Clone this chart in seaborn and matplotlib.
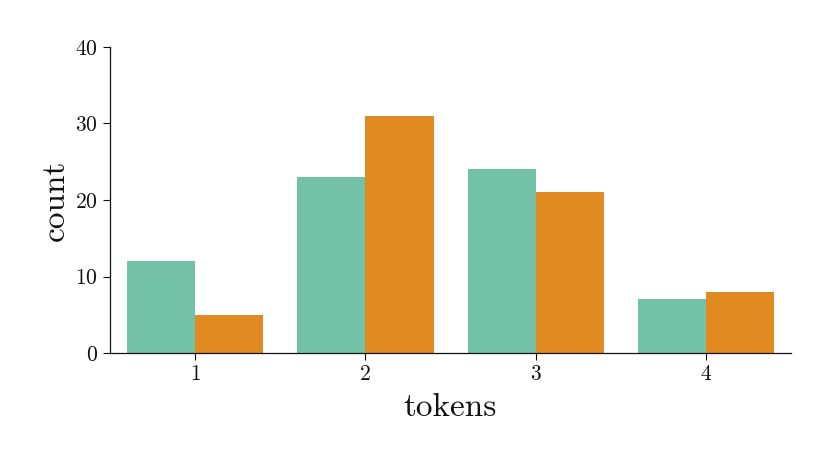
import matplotlib
matplotlib.use("Agg")
import matplotlib.pyplot as plt
import seaborn as sns
import pandas as pd

tokens = ["1", "2", "3", "4"]
series_a = [12, 23, 24, 7]
series_b = [5, 31, 21, 8]
series_names = ["a", "b"]
colors = ["#73c2a8", "#e08a21"]

df = pd.DataFrame({
    "tokens": tokens * 2,
    "count": series_a + series_b,
    "group": [series_names[0]] * len(tokens) + [series_names[1]] * len(tokens),
})

sns.set_style("ticks")
plt.rcParams["font.family"] = ["cmr10", "DejaVu Serif"]
plt.rcParams["axes.formatter.use_mathtext"] = True

fig = plt.figure(figsize=(8.31, 4.62), dpi=100)
ax = fig.add_axes([0.1324, 0.2359, 0.8195, 0.6624])
sns.barplot(data=df, x="tokens", y="count", hue="group", palette=colors,
            saturation=1, legend=False, ax=ax, width=0.8, linewidth=0)
ax.set_ylim(0, 40)
ax.set_xlim(-0.5, 3.5)
ax.set_yticks([0, 10, 20, 30, 40])
ax.tick_params(labelsize=15.5, length=5, width=0.8, colors="#111111")
ax.set_xlabel("tokens", fontsize=24, labelpad=6, color="#111111")
ax.set_ylabel("count", fontsize=24, color="#111111")
for s in ["top", "right"]:
    ax.spines[s].set_visible(False)
for s in ["left", "bottom"]:
    ax.spines[s].set_linewidth(0.9)
    ax.spines[s].set_color("#111111")
fig.savefig("out.png", dpi=100)
